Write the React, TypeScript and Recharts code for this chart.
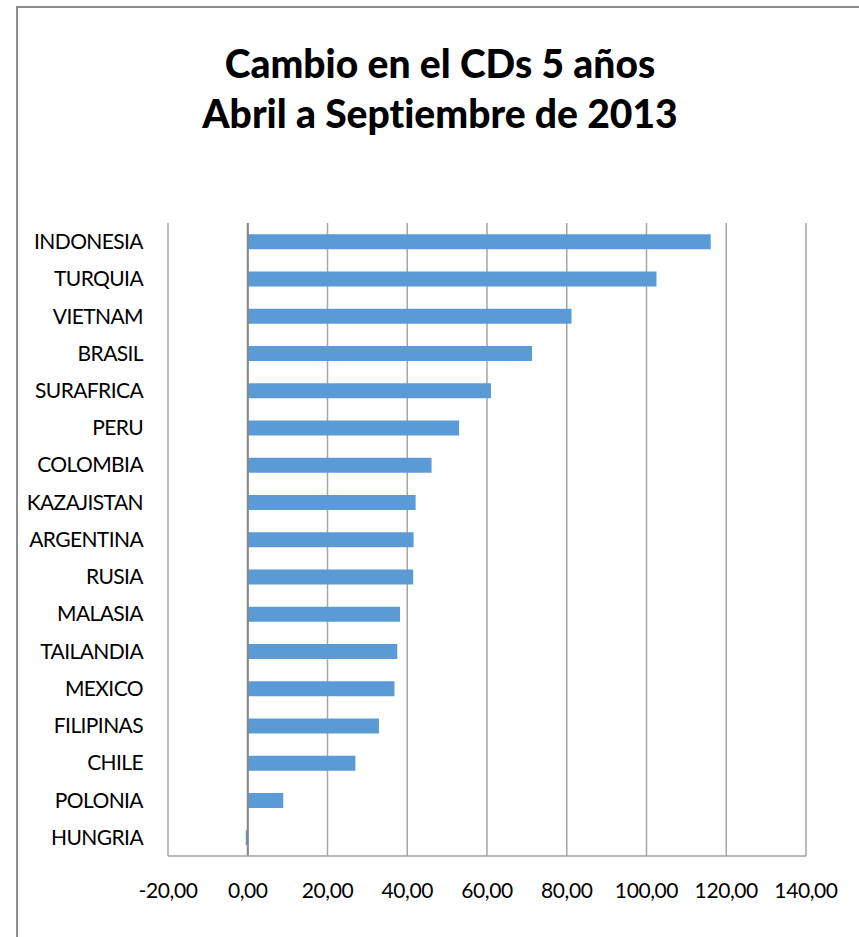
import React from "react";
import { BarChart, Bar, XAxis, YAxis, CartesianGrid, ReferenceLine } from "recharts";

const countries = [
  "INDONESIA", "TURQUIA", "VIETNAM", "BRASIL", "SURAFRICA", "PERU", "COLOMBIA",
  "KAZAJISTAN", "ARGENTINA", "RUSIA", "MALASIA", "TAILANDIA", "MEXICO",
  "FILIPINAS", "CHILE", "POLONIA", "HUNGRIA",
];
const cdsChange = [
  116.1, 102.5, 81.2, 71.3, 61.0, 53.0, 46.1,
  42.1, 41.6, 41.5, 38.2, 37.5, 36.8,
  32.9, 27.0, 8.9, -0.5,
];
const xTicks = [-20, 0, 20, 40, 60, 80, 100, 120, 140];
const titleLines = ["Cambio en el CDs 5 años", "Abril a Septiembre de 2013"];

const data = countries.map((name, i) => ({ name, value: cdsChange[i] }));

const FONT = "Lato, 'Open Sans', sans-serif";
const fmt = (v: number) => v.toFixed(2).replace(".", ",");

export default function App() {
  return (
    <div style={{ position: "absolute", left: 0, top: 0, width: 859, height: 937, overflow: "hidden", background: "#fff" }}>
      <div style={{ position: "absolute", left: 16, top: 6, width: 900, height: 1000, borderLeft: "2px solid #8c8c8c", borderTop: "2px solid #8c8c8c" }} />
      <svg style={{ position: "absolute", left: 0, top: 0, fontVariantLigatures: "none" }} width={859} height={160}>
        <text x={440} y={78} textAnchor="middle" fontFamily={FONT} fontWeight={900} fontSize={39} fill="#000">{titleLines[0]}</text>
        <text x={440} y={128} textAnchor="middle" fontFamily={FONT} fontWeight={900} fontSize={39} fill="#000">{titleLines[1]}</text>
      </svg>
      <div style={{ position: "absolute", left: 0, top: 0 }}>
        <BarChart
          width={859}
          height={937}
          data={data}
          layout="vertical"
          margin={{ top: 223, right: 53, bottom: 31, left: 0 }}
          barCategoryGap="30.5%"
        >
          <CartesianGrid horizontal={false} vertical={true} stroke="#a6a6a6" strokeWidth={1.5} />
          <XAxis
            type="number"
            domain={[-20, 140]}
            ticks={xTicks}
            tickFormatter={fmt}
            axisLine={{ stroke: "#a0a0a0", strokeWidth: 1.5 }}
            tickLine={false}
            tickSize={0}
            tickMargin={27}
            height={50}
            interval={0}
            tick={{ fontFamily: FONT, fontSize: 21, fill: "#000", letterSpacing: -0.4 }}
          />
          <YAxis
            type="category"
            dataKey="name"
            width={168}
            axisLine={false}
            tickLine={false}
            tickSize={0}
            tickMargin={25}
            interval={0}
            tick={{ fontFamily: FONT, fontSize: 21, fill: "#000", letterSpacing: -0.6 }}
          />
          <Bar dataKey="value" fill="#5b9bd5" isAnimationActive={false} />
          <ReferenceLine x={0} stroke="#868686" strokeWidth={2} />
        </BarChart>
      </div>
    </div>
  );
}
